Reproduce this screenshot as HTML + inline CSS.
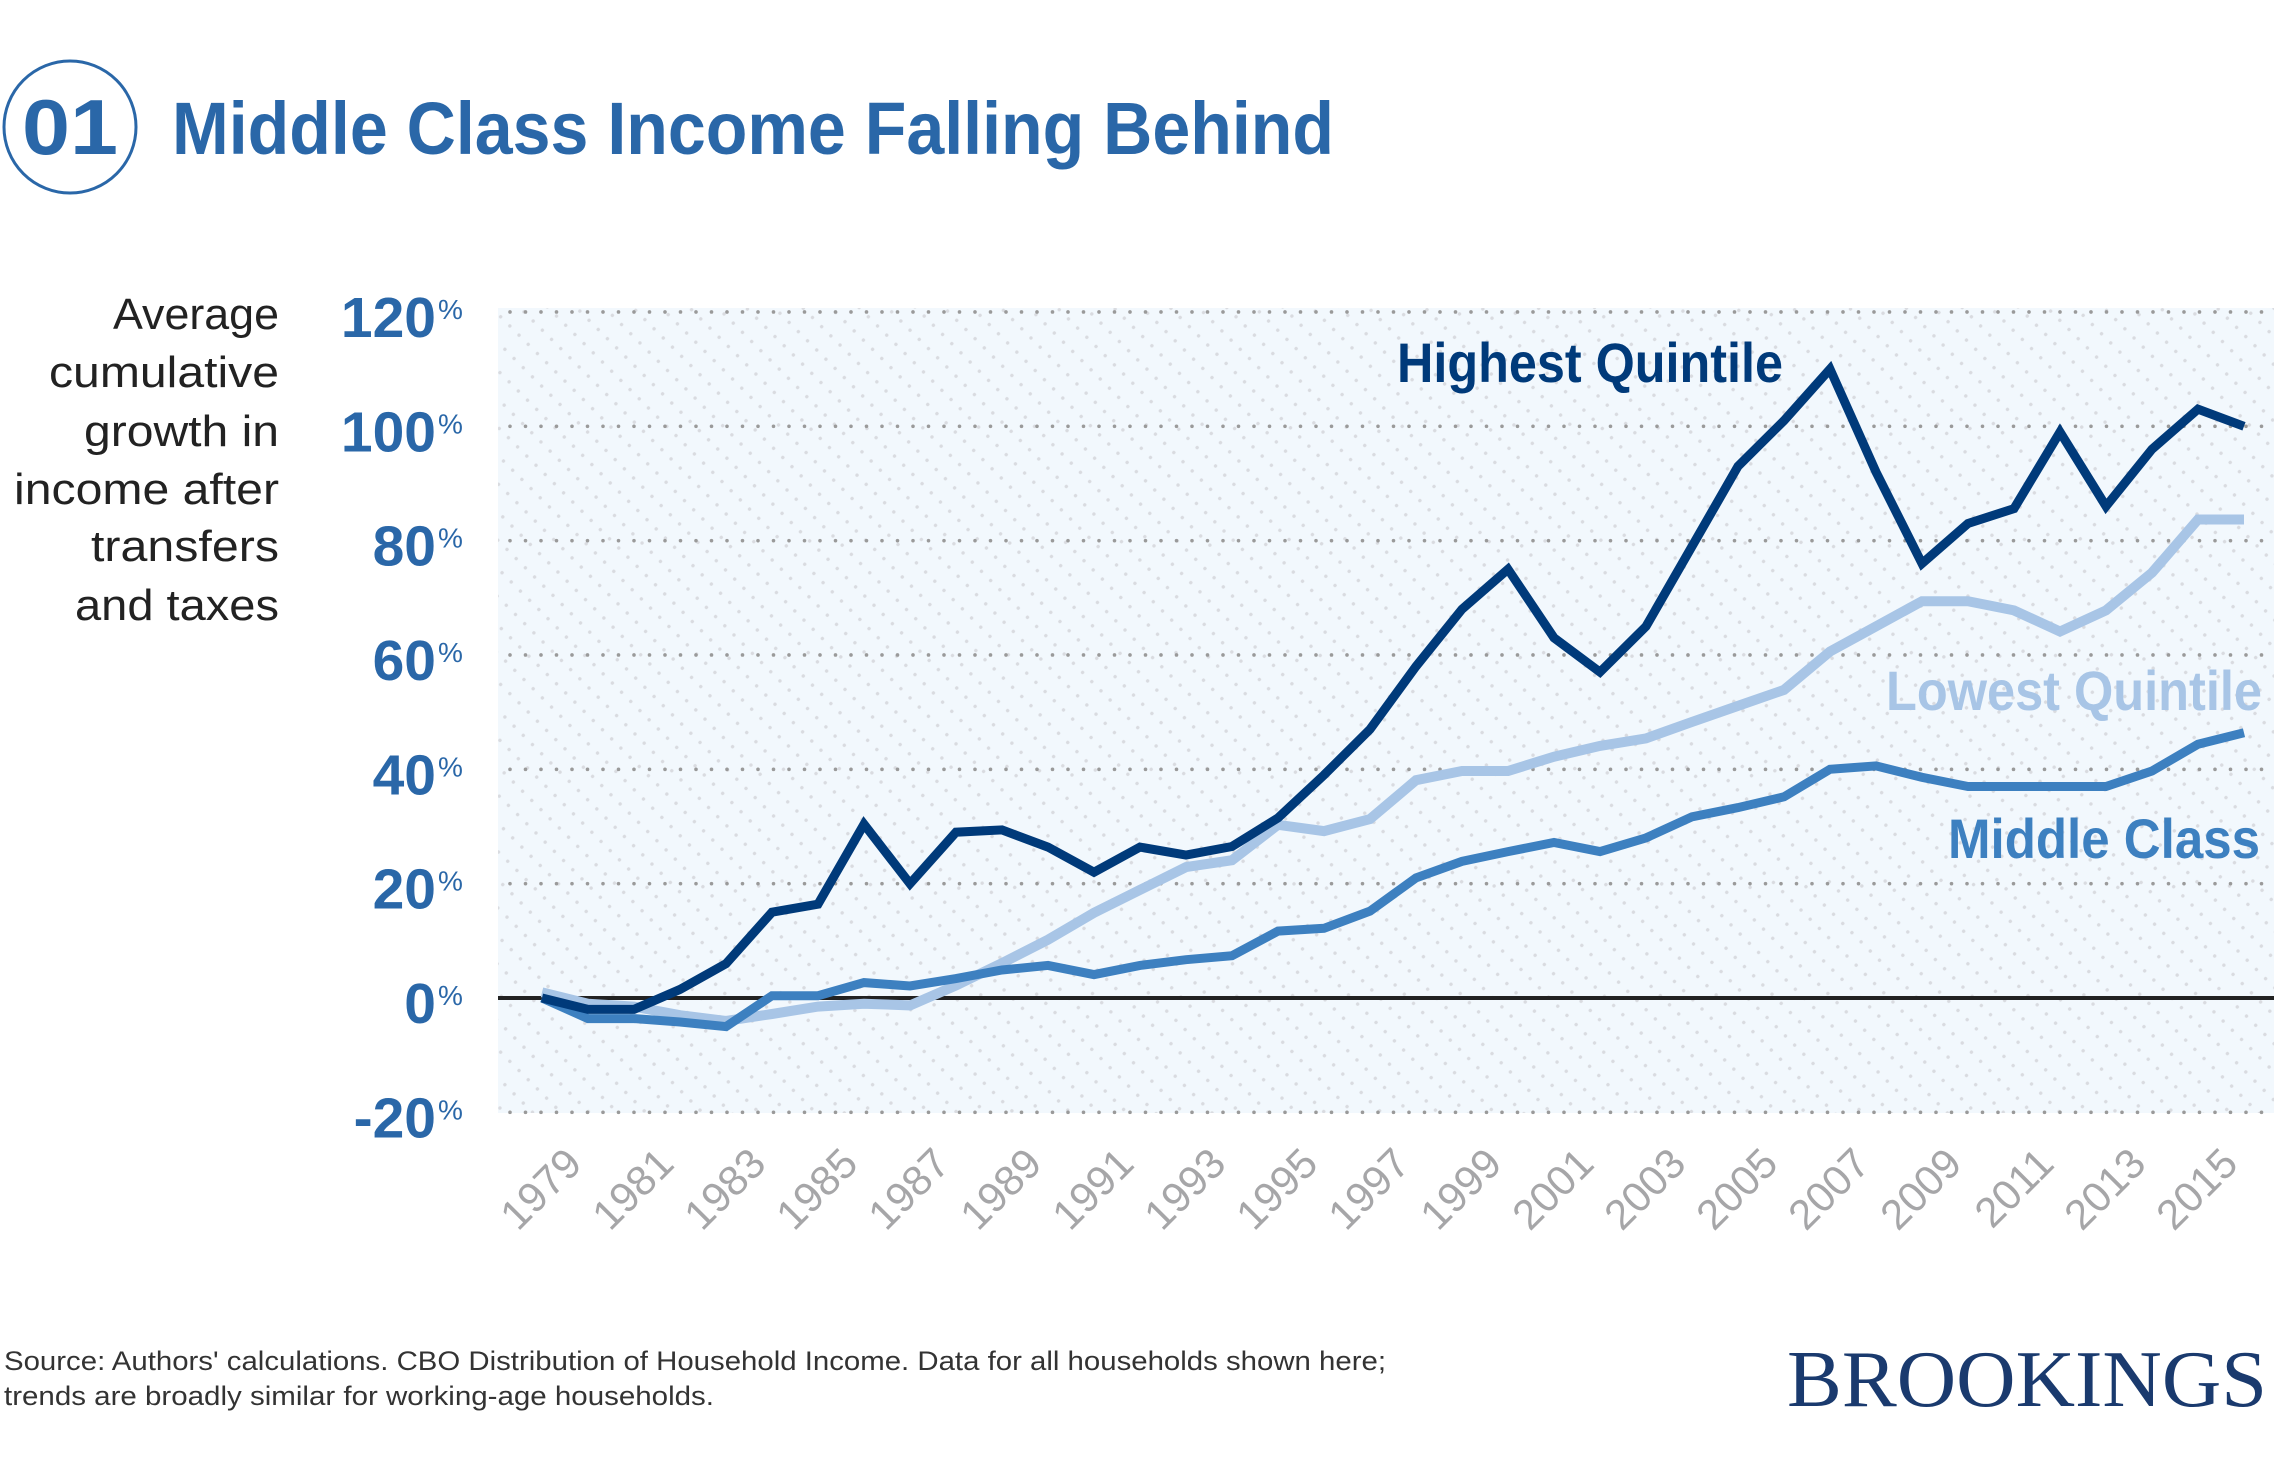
<!DOCTYPE html>
<html><head><meta charset="utf-8"><style>
html,body{margin:0;padding:0;background:#fff;}
svg{display:block;}
</style></head><body>
<svg id="chart" width="2280" height="1458" viewBox="0 0 2280 1458" xmlns="http://www.w3.org/2000/svg">
<defs>
<pattern id="hatch" width="13" height="20" patternUnits="userSpaceOnUse" patternTransform="rotate(45)">
<circle cx="6" cy="10" r="1.7" fill="#d9dbe0"/>
</pattern>
</defs>
<g>
<circle cx="70" cy="127" r="66" fill="none" stroke="#2a67a8" stroke-width="3"/>
<text x="70" y="154" text-anchor="middle" font-family="Liberation Sans, sans-serif" font-weight="bold" font-size="78" fill="#2a67a8" textLength="96" lengthAdjust="spacingAndGlyphs">01</text>
</g>
<text x="172" y="154" font-family="Liberation Sans, sans-serif" font-weight="bold" font-size="74" fill="#2a67a8" textLength="1162" lengthAdjust="spacingAndGlyphs">Middle Class Income Falling Behind</text>
<g font-family="Liberation Sans, sans-serif" font-size="44" fill="#222" text-anchor="end">
<text x="279" y="329" textLength="166" lengthAdjust="spacingAndGlyphs">Average</text>
<text x="279" y="387" textLength="230" lengthAdjust="spacingAndGlyphs">cumulative</text>
<text x="279" y="446" textLength="195" lengthAdjust="spacingAndGlyphs">growth in</text>
<text x="279" y="504" textLength="265" lengthAdjust="spacingAndGlyphs">income after</text>
<text x="279" y="561" textLength="188" lengthAdjust="spacingAndGlyphs">transfers</text>
<text x="279" y="620" textLength="204" lengthAdjust="spacingAndGlyphs">and taxes</text>
</g>
<rect x="498" y="308" width="1776" height="805" fill="#f2f8fd"/>
<rect x="498" y="308" width="1776" height="805" fill="url(#hatch)"/>
<g id="grid"></g>
<g id="yticks"></g>
<g id="xticks"></g>
<g id="series"></g>
<text x="1397" y="382" font-family="Liberation Sans, sans-serif" font-weight="bold" font-size="56" fill="#003a7a" textLength="386" lengthAdjust="spacingAndGlyphs">Highest Quintile</text>
<text x="1886" y="710" font-family="Liberation Sans, sans-serif" font-weight="bold" font-size="56" fill="#a8c5e6" textLength="376" lengthAdjust="spacingAndGlyphs">Lowest Quintile</text>
<text x="1948" y="858" font-family="Liberation Sans, sans-serif" font-weight="bold" font-size="56" fill="#3d80c0" textLength="312" lengthAdjust="spacingAndGlyphs">Middle Class</text>
<g font-family="Liberation Sans, sans-serif" font-size="27" fill="#333">
<text x="4" y="1370" textLength="1382" lengthAdjust="spacingAndGlyphs">Source: Authors' calculations. CBO Distribution of Household Income. Data for all households shown here;</text>
<text x="4" y="1405" textLength="710" lengthAdjust="spacingAndGlyphs">trends are broadly similar for working-age households.</text>
</g>
<text x="1787" y="1406" font-family="Liberation Serif, serif" font-size="80" fill="#1a3a6e" textLength="480" lengthAdjust="spacingAndGlyphs">BROOKINGS</text>
</svg>
<script>
const years = [1979,1980,1981,1982,1983,1984,1985,1986,1987,1988,1989,1990,1991,1992,1993,1994,1995,1996,1997,1998,1999,2000,2001,2002,2003,2004,2005,2006,2007,2008,2009,2010,2011,2012,2013,2014,2015,2016];
const highest = [0,-2,-2,1.5,6,15,16.4,30.4,20,29,29.4,26.4,22,26.4,25,26.5,31.5,39,47,58,68,75,63,57,65,79,93,101,110,92,76,83,85.6,99,86,96,103,100];
const middle = [0,-3.6,-3.6,-4.2,-5,0.4,0.4,2.7,2.1,3.4,4.9,5.7,4.1,5.7,6.7,7.4,11.7,12.2,15.2,21,23.9,25.6,27.2,25.6,28,31.7,33.3,35.2,40,40.6,38.6,37,37,37,37,39.7,44.4,46.4];
const lowest = [1,-1,-1.5,-3,-4,-2.8,-1.5,-1,-1.3,2.2,6.1,10.2,14.9,18.9,22.9,24.1,30.3,29.2,31.3,38.1,39.7,39.7,42.2,44.1,45.4,48.3,51.1,53.9,60.6,65,69.4,69.4,67.8,64.1,67.8,74.4,83.7,83.7];
const yTicks = [120,100,80,60,40,20,0,-20];
const xTickLabels = [1979,1981,1983,1985,1987,1989,1991,1993,1995,1997,1999,2001,2003,2005,2007,2009,2011,2013,2015];

const NS = "http://www.w3.org/2000/svg";
const X0 = 542, DX = 46, Y0 = 998, KY = 5.717;
function xScale(year){ return X0 + DX*(year - years[0]); }
function yScale(v){ return Y0 - KY*v; }
function mk(tag, attrs){ const e=document.createElementNS(NS,tag); for(const k in attrs) e.setAttribute(k,attrs[k]); return e; }

const grid=document.getElementById('grid');
const yt=document.getElementById('yticks');
yTicks.forEach(v=>{
  const y=yScale(v);
  if(v!==0){
    const l=mk('line',{x1:510,x2:2274,y1:y,y2:y,stroke:'#9a9a9a','stroke-width':3.6,'stroke-dasharray':'0 15.5','stroke-linecap':'round'});
    
    
    grid.appendChild(l);
  }
  const t=mk('text',{x:436,y:y+25,'text-anchor':'end','font-family':'Liberation Sans, sans-serif','font-weight':'bold','font-size':57,fill:'#2a67a8'});
  t.textContent=String(v);
  
  
  yt.appendChild(t);
  const p=mk('text',{x:438,y:y+7,'font-family':'Liberation Sans, sans-serif','font-size':28,fill:'#2a67a8'});
  p.textContent='%';
  
  
  yt.appendChild(p);
});
const zl=mk('line',{x1:498,x2:2274,y1:yScale(0),y2:yScale(0),stroke:'#222','stroke-width':4});


grid.appendChild(zl);

const xt=document.getElementById('xticks');
xTickLabels.forEach(yr=>{
  const x=xScale(yr)+42, y=1166;
  const t=mk('text',{x:x,y:y,'text-anchor':'end','font-family':'Liberation Sans, sans-serif','font-size':42,fill:'#a6a6a8',transform:`rotate(-45 ${x} ${y})`});
  t.textContent=String(yr);
  
  
  xt.appendChild(t);
});

const sg=document.getElementById('series');
function line(vals,color,w,name){
  const d=vals.map((v,i)=>(i?'L':'M')+xScale(years[i]).toFixed(1)+' '+yScale(v).toFixed(1)).join(' ');
  const p=mk('path',{d:d,fill:'none',stroke:color,'stroke-width':w,'stroke-linejoin':'miter'});
  
  
  sg.appendChild(p);
}
line(lowest,'#a8c5e6',10,'line-lowest-quintile');
line(middle,'#3d80c0',9,'line-middle-class');
line(highest,'#003a7a',9,'line-highest-quintile');
</script>
</body></html>
